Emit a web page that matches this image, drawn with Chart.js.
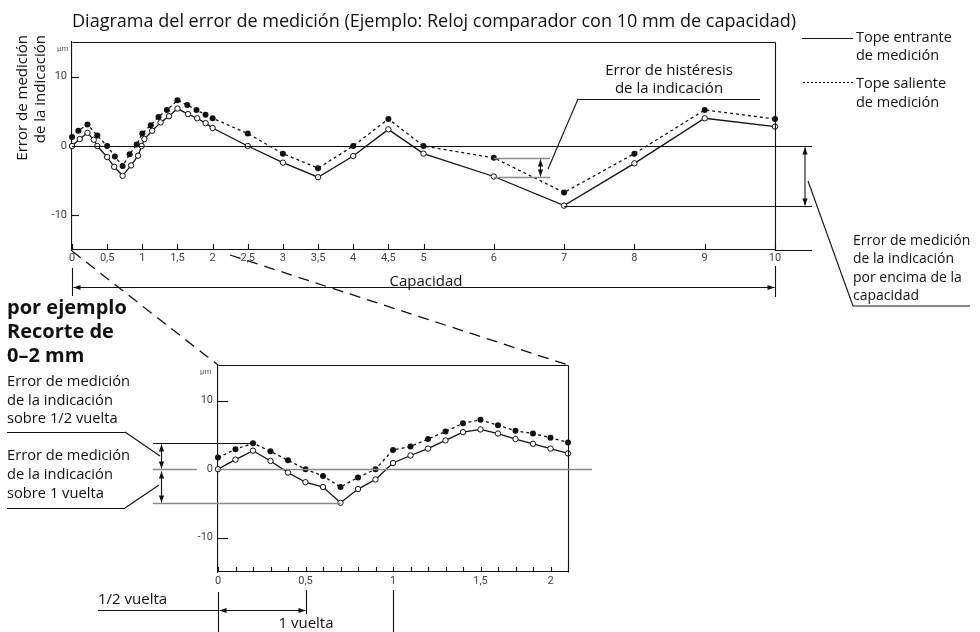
<!DOCTYPE html>
<html>
<head>
<meta charset="utf-8">
<script src="https://cdn.jsdelivr.net/npm/chart.js@4.4.1/dist/chart.umd.min.js"></script>
<style>
html, body { margin: 0; padding: 0; background: #fff; }
#wrap { position: relative; width: 980px; height: 632px; overflow: hidden; font-family: 'Open Sans', sans-serif; color: #111; }
canvas { position: absolute; left: 0; top: 0; }
.t { position: absolute; white-space: nowrap; font-size: 15px; line-height: 18px; }
.c { transform: translateX(-50%); text-align: center; }
.v { writing-mode: vertical-rl; transform: rotate(180deg); line-height: 17px; }
.mu { position: absolute; font-size: 8px; color: #555; font-family: Roboto, sans-serif; }
</style>
</head>
<body>
<div id="wrap">
  <canvas id="topChart" width="980" height="632"></canvas>
  <canvas id="zoomChart" width="980" height="632"></canvas>

  <div class="t" id="title" data-w="725" style="left:72px; top:9px; font-size:17px; line-height:22px;">Diagrama del error de medición (Ejemplo: Reloj comparador con 10 mm de capacidad)</div>
  <div class="t v" style="left:13px; top:35px;">Error de medición</div>
  <div class="t v" style="left:31px; top:35px;">de la indicación</div>
  <div class="mu" style="left:57px; top:44px;">µm</div>

  <div class="t" style="left:856px; top:28px; font-size:14.5px;">Tope entrante<br>de medición</div>
  <div class="t" style="left:856px; top:73px; font-size:14.5px; line-height:19px;">Tope saliente<br>de medición</div>
  <div class="t c" style="left:669px; top:61px; line-height:17.5px;">Error de histéresis<br>de la indicación</div>
  <div class="t" style="left:853px; top:231px; font-size:14px; line-height:18.3px;">Error de medición<br>de la indicación<br>por encima de la<br>capacidad</div>
  <div class="t c" style="left:426px; top:271px;">Capacidad</div>

  <div class="t" style="left:7px; top:295px; font-size:20px; line-height:24px; font-weight:bold;">por ejemplo<br>Recorte de<br>0–2 mm</div>
  <div class="t" style="left:7px; top:371px; font-size:14.7px; line-height:18.5px;">Error de medición<br>de la indicación<br>sobre 1/2 vuelta</div>
  <div class="t" style="left:7px; top:445px; font-size:14.7px; line-height:19px;">Error de medición<br>de la indicación<br>sobre 1 vuelta</div>
  <div class="mu" style="left:200px; top:367px;">µm</div>
  <div class="t" style="left:98px; top:589px;">1/2 vuelta</div>
  <div class="t c" style="left:306px; top:613px;">1 vuelta</div>
</div>

<script>
// ---- main chart 0..10 mm (values in µm) ----
var topTicks = [0, 0.5, 1, 1.5, 2, 2.5, 3, 3.5, 4, 4.5, 5, 6, 7, 8, 9, 10];
var topInX  = [0, 0.11, 0.22, 0.31, 0.36, 0.5, 0.6, 0.72, 0.84, 0.94, 0.99, 1.03, 1.14, 1.26, 1.38, 1.5, 1.65, 1.78, 1.9, 2, 2.5, 3, 3.5, 4, 4.5, 5, 6, 7, 8, 9, 10];
var topInY  = [0, 1.0, 1.9, 0.9, 0, -1.6, -3.0, -4.3, -2.8, -1.4, 0, 1.0, 2.2, 3.4, 4.3, 5.4, 4.6, 4.0, 3.3, 2.6, 0, -2.4, -4.5, -1.45, 2.4, -1.1, -4.4, -8.6, -2.5, 4.0, 2.8];
var topOutX = [0, 0.09, 0.22, 0.36, 0.5, 0.61, 0.72, 0.82, 0.92, 1.0, 1.12, 1.23, 1.35, 1.5, 1.64, 1.77, 1.9, 2, 2.5, 3, 3.5, 4, 4.5, 5, 6, 7, 8, 9, 10];
var topOutY = [1.3, 2.2, 3.1, 1.5, 0, -1.5, -2.9, -1.2, 0.2, 1.8, 3.0, 4.2, 5.2, 6.6, 5.9, 5.2, 4.5, 4.0, 1.8, -1.1, -3.2, 0, 3.9, 0, -1.7, -6.7, -1.1, 5.2, 3.9];
var yTicks = [-10, 0, 10];

// ---- zoomed section 0..2 mm ----
var zoomLabels = ['0', '', '', '', '', '0,5', '', '', '', '', '1', '', '', '', '', '1,5', '', '', '', '2', ''];
var zoomIn  = [0, 1.4, 2.7, 1.2, -0.5, -1.9, -2.6, -4.9, -2.9, -1.5, 0.9, 2.0, 3.0, 4.2, 5.4, 5.8, 5.2, 4.4, 3.7, 3.0, 2.3];
var zoomOut = [1.7, 2.9, 3.8, 2.6, 1.3, 0, -1.0, -2.6, -1.2, 0, 2.8, 3.3, 4.4, 5.5, 6.7, 7.2, 6.4, 5.6, 5.2, 4.6, 3.9];

var INK = '#111';
var GREY = '#8a8a8a';
var tickFont = { family: "'Liberation Sans Narrow', Roboto, sans-serif", size: 11 };

function pairs(xs, ys) {
  return xs.map(function(x, i) { return {x: x, y: ys[i]}; });
}

function seg(ctx, x1, y1, x2, y2) {
  ctx.beginPath();
  ctx.moveTo(x1, y1);
  ctx.lineTo(x2, y2);
  ctx.stroke();
}

function head(ctx, x, y, ang) {
  var L = 7, W = 2.6;
  ctx.beginPath();
  ctx.moveTo(x, y);
  ctx.lineTo(x - L * Math.cos(ang) + W * Math.sin(ang), y - L * Math.sin(ang) - W * Math.cos(ang));
  ctx.lineTo(x - L * Math.cos(ang) - W * Math.sin(ang), y - L * Math.sin(ang) + W * Math.cos(ang));
  ctx.closePath();
  ctx.fill();
}

function dblArrow(ctx, x1, y1, x2, y2) {
  var ang = Math.atan2(y2 - y1, x2 - x1);
  seg(ctx, x1, y1, x2, y2);
  head(ctx, x2, y2, ang);
  head(ctx, x1, y1, ang + Math.PI);
}

function px(v) { return Math.round(v) + 0.5; }

var topNotes = {
  id: 'topNotes',
  afterDraw: function(chart) {
    var ctx = chart.ctx, a = chart.chartArea, sx = chart.scales.x, sy = chart.scales.y;
    var y0 = px(sy.getPixelForValue(0));
    ctx.save();
    ctx.strokeStyle = INK;
    ctx.fillStyle = INK;
    ctx.lineWidth = 1.1;

    // frame and long axis lines
    seg(ctx, px(a.left), px(a.top), px(a.right), px(a.top));
    seg(ctx, px(a.right), px(a.top), px(a.right), px(a.bottom));
    seg(ctx, a.right, px(a.bottom), 812, px(a.bottom));
    seg(ctx, a.left, y0, 812, y0);

    // inward tick marks
    sx.ticks.forEach(function(t) {
      var p = px(sx.getPixelForValue(t.value));
      seg(ctx, p, a.bottom, p, a.bottom - 6);
    });
    sy.ticks.forEach(function(t) {
      var p = px(sy.getPixelForValue(t.value));
      seg(ctx, a.left, p, a.left + 7, p);
    });

    // error over the whole capacity
    var i7 = topInX.indexOf(7);
    var yMin = px(sy.getPixelForValue(topInY[i7]));
    seg(ctx, sx.getPixelForValue(7), yMin, 812, yMin);
    dblArrow(ctx, 805, y0 + 1, 805, yMin - 1);
    seg(ctx, 808, 181, 853, 306);
    seg(ctx, 853, 306, 970, 306);

    // hysteresis at 6 mm
    var yA = px(sy.getPixelForValue(topOutY[topOutX.indexOf(6)]));
    var yB = px(sy.getPixelForValue(topInY[topInX.indexOf(6)]));
    ctx.strokeStyle = GREY;
    ctx.lineWidth = 1.5;
    seg(ctx, sx.getPixelForValue(6), yA, sx.getPixelForValue(6.8), yA);
    seg(ctx, sx.getPixelForValue(6), yB, sx.getPixelForValue(6.8), yB);
    ctx.strokeStyle = INK;
    ctx.lineWidth = 1.1;
    var xh = px(sx.getPixelForValue(6.66));
    dblArrow(ctx, xh, yA + 1, xh, yB - 1);
    seg(ctx, 548, 169, 578, 99);
    seg(ctx, 578, px(99), 760, px(99));

    // capacity arrow
    var c0 = px(sx.getPixelForValue(0)), c10 = px(sx.getPixelForValue(10));
    seg(ctx, c0, 268, c0, 296);
    seg(ctx, c10, 266, c10, 297);
    dblArrow(ctx, c0 + 1, px(287), c10 - 1, px(287));

    // legend samples
    seg(ctx, 802, px(38), 853, px(38));
    ctx.setLineDash([2, 2]);
    seg(ctx, 803, px(82), 853, px(82));

    // guide lines to the zoomed section
    ctx.setLineDash([11, 7]);
    ctx.lineWidth = 1.3;
    seg(ctx, 72, 251, 218, 365);
    seg(ctx, 230, 255, 568, 365);
    ctx.restore();
  }
};

var zoomNotes = {
  id: 'zoomNotes',
  afterDraw: function(chart) {
    var ctx = chart.ctx, a = chart.chartArea, sx = chart.scales.x, sy = chart.scales.y;
    var y0 = px(sy.getPixelForValue(0));
    ctx.save();
    ctx.strokeStyle = INK;
    ctx.fillStyle = INK;
    ctx.lineWidth = 1.1;

    seg(ctx, px(a.left), px(a.top), px(a.right), px(a.top));
    seg(ctx, px(a.right), px(a.top), px(a.right), px(a.bottom));

    sx.ticks.forEach(function(t, i) {
      var p = px(sx.getPixelForTick(i));
      seg(ctx, p, a.bottom, p, a.bottom - 5);
    });
    sy.ticks.forEach(function(t) {
      if (t.value === 0) return;
      var p = px(sy.getPixelForValue(t.value));
      seg(ctx, a.left, p, a.left + 10, p);
    });

    // zero line
    ctx.strokeStyle = GREY;
    ctx.lineWidth = 1.5;
    seg(ctx, a.left, y0, 592, y0);
    seg(ctx, 153, y0, 197, y0);

    // error over half a turn / one turn
    var half = zoomOut.slice(0, 6);
    var iMax = half.indexOf(Math.max.apply(null, half));
    var turn = zoomIn.slice(0, 11);
    var iMin = turn.indexOf(Math.min.apply(null, turn));
    var yMax = px(sy.getPixelForValue(zoomOut[iMax]));
    var yMin = px(sy.getPixelForValue(zoomIn[iMin]));
    seg(ctx, 153, yMin, sx.getPixelForValue(iMin), yMin);
    ctx.strokeStyle = INK;
    ctx.lineWidth = 1.1;
    seg(ctx, 153, yMax, sx.getPixelForValue(iMax), yMax);
    dblArrow(ctx, 161.5, yMax + 1, 161.5, y0 - 1);
    dblArrow(ctx, 161.5, y0 + 2, 161.5, yMin - 1);

    seg(ctx, 7, px(432), 125, px(432));
    seg(ctx, 125, 432, 160, 456);
    seg(ctx, 7, px(508), 125, px(508));
    seg(ctx, 125, 508, 159, 485);

    // turn markers under the axis
    var t0 = px(sx.getPixelForTick(0)), t5 = px(sx.getPixelForTick(5)), t10 = px(sx.getPixelForTick(10));
    seg(ctx, t0, 592, t0, 632);
    seg(ctx, t5, 590, t5, 614);
    seg(ctx, t10, 590, t10, 632);
    seg(ctx, 98, px(610), t0, px(610));
    dblArrow(ctx, t0 + 1, px(610), t5 - 1, px(610));
    ctx.restore();
  }
};

function lineSet(label, data, dashed) {
  return {
    label: label,
    data: data,
    borderColor: INK,
    borderWidth: 1.3,
    borderDash: dashed ? [3, 3] : [],
    pointRadius: dashed ? 3 : 2.7,
    pointBorderWidth: dashed ? 0 : 1,
    pointBorderColor: INK,
    pointBackgroundColor: dashed ? INK : '#fff',
    tension: 0,
    clip: false
  };
}

function yScale(min, max, width, pad) {
  return {
    type: 'linear', min: min, max: max,
    afterBuildTicks: function(s) { s.ticks = yTicks.map(function(v) { return {value: v}; }); },
    afterFit: function(s) { s.width = width; },
    grid: { display: false, drawTicks: false },
    border: { color: INK, width: 1.1 },
    ticks: { font: tickFont, color: '#444', padding: pad, callback: function(v) { return String(v); } }
  };
}

var topChart = new Chart(document.getElementById('topChart'), {
  type: 'line',
  data: {
    datasets: [
      lineSet('Tope saliente de medición', pairs(topOutX, topOutY), true),
      lineSet('Tope entrante de medición', pairs(topInX, topInY), false)
    ]
  },
  options: {
    responsive: false,
    animation: false,
    devicePixelRatio: 1,
    events: [],
    layout: { autoPadding: false, padding: { left: 32, right: 205, top: 42, bottom: 360 } },
    plugins: { legend: { display: false }, tooltip: { enabled: false } },
    scales: {
      x: {
        type: 'linear', min: 0, max: 10,
        afterBuildTicks: function(s) { s.ticks = topTicks.map(function(v) { return {value: v}; }); },
        afterFit: function(s) { s.height = 22; },
        grid: { display: false, drawTicks: false },
        border: { color: INK, width: 1.1 },
        ticks: { font: tickFont, color: '#444', padding: 2, maxRotation: 0, autoSkip: false,
                 callback: function(v) { return String(v).replace('.', ','); } }
      },
      y: yScale(-15, 15, 40, 5)
    }
  },
  plugins: [topNotes]
});

var zoomChart = new Chart(document.getElementById('zoomChart'), {
  type: 'line',
  data: {
    labels: zoomLabels,
    datasets: [
      lineSet('Tope saliente de medición', zoomOut, true),
      lineSet('Tope entrante de medición', zoomIn, false)
    ]
  },
  options: {
    responsive: false,
    animation: false,
    devicePixelRatio: 1,
    events: [],
    layout: { autoPadding: false, padding: { left: 178, right: 412, top: 365, bottom: 38 } },
    plugins: { legend: { display: false }, tooltip: { enabled: false } },
    scales: {
      x: {
        type: 'category', offset: false,
        afterFit: function(s) { s.height = 22; },
        grid: { display: false, drawTicks: false },
        border: { color: INK, width: 1.1 },
        ticks: { font: tickFont, color: '#444', padding: 3, maxRotation: 0, autoSkip: false }
      },
      y: yScale(-15, 15.2, 40, 5)
    }
  },
  plugins: [zoomNotes]
});

// stretch single-line captions to the width they take in the drawing
document.querySelectorAll('[data-w]').forEach(function(el) {
  var fs = parseFloat(getComputedStyle(el).fontSize);
  el.style.fontSize = (fs * (+el.dataset.w) / el.offsetWidth) + 'px';
});
</script>
</body>
</html>
